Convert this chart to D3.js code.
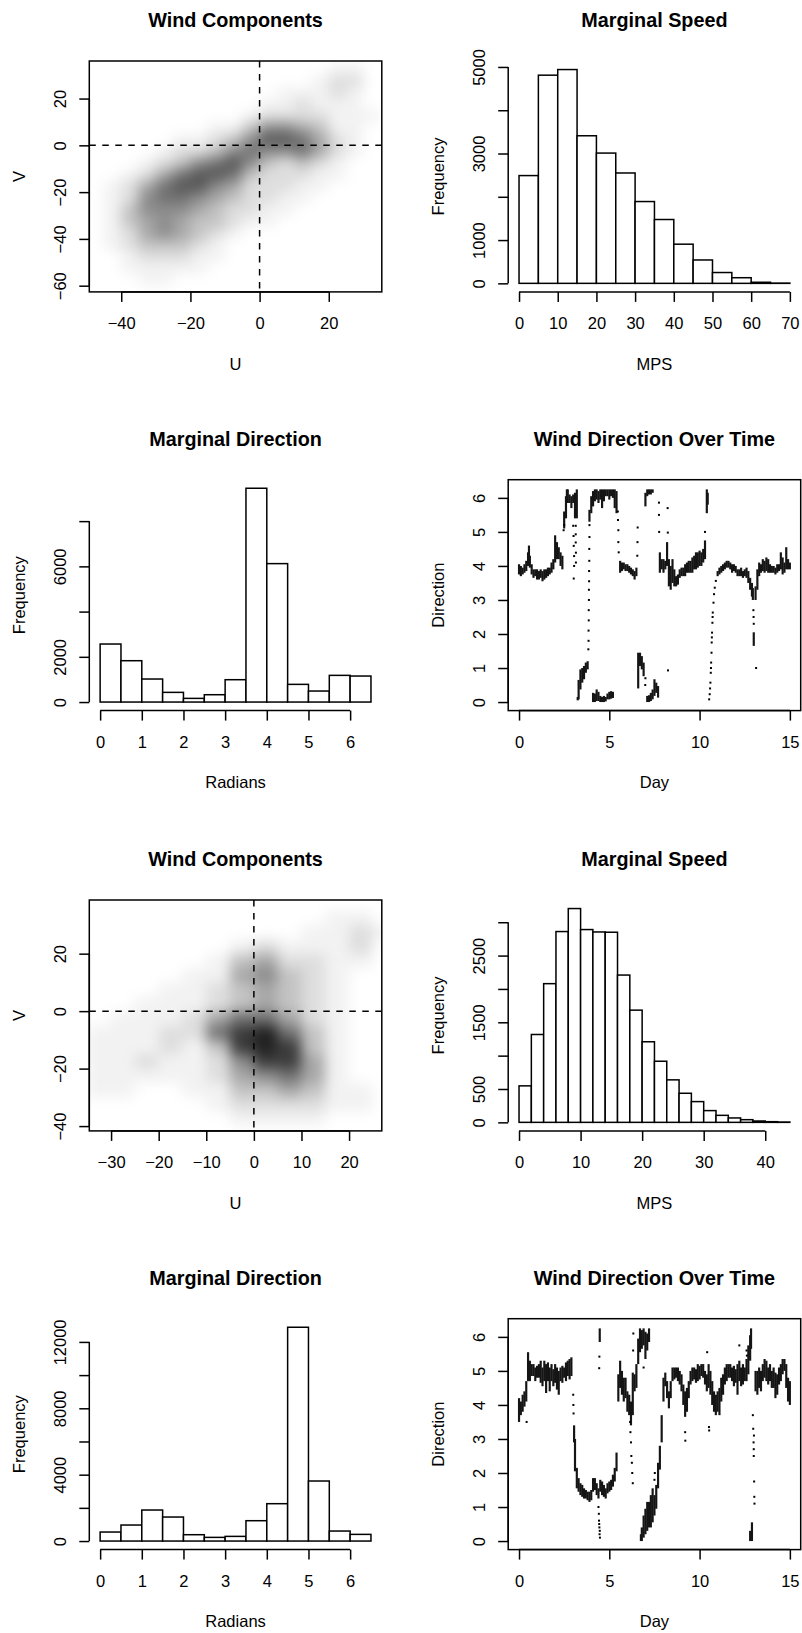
<!DOCTYPE html>
<html lang="en">
<head>
	<meta charset="UTF-8">
	<title>Wind summaries</title>
	<script src="https://cdn.jsdelivr.net/npm/d3@7"></script>
	<style>
		body{ margin:0; background:#fff; }
		text{ font-family:"Liberation Sans", Arial, Helvetica, sans-serif; fill:#000; }
	</style>
</head>
<body>
<script type="text/javascript">

	var M = '\u2212';

	// ---- site 1 ----
	// wind components: density of points per 5x5 cell (0-9), rows from top (V high) to bottom
	var comp1ULim = [-46.1, 32.2], comp1VLim = [-59.0, 32.4];
	var comp1UBreaks = [-45,-40,-35,-30,-25,-20,-15,-10,-5,0,5,10,15,20,25,30,35];
	var comp1VBreaks = [35,30,25,20,15,10,5,0,-5,-10,-15,-20,-25,-30,-35,-40,-45,-50,-55,-60];
	var comp1Density = [
		"0000000000000110",
		"0000000000001220",
		"0000000000111210",
		"0000000001121110",
		"0000000012222111",
		"0000001135543110",
		"0000112357764210",
		"0001223565564210",
		"0012356753232100",
		"0124677632221100",
		"1246775422211000",
		"1256654322110000",
		"1355543221100000",
		"1345433211000000",
		"1245432100000000",
		"1233321000000000",
		"0122211000000000",
		"0111110000000000",
		"0011000000000000"
	];
	var comp1XTicks = [-40,-20,0,20], comp1XLabels = [M+'40',M+'20','0','20'];
	var comp1YTicks = [-60,-40,-20,0,20], comp1YLabels = [M+'60',M+'40',M+'20','0','20'];

	var speed1Breaks = [0,5,10,15,20,25,30,35,40,45,50,55,60,65,70];
	var speed1Counts = [2490,4810,4940,3410,3010,2550,1890,1475,905,540,250,130,25,6];
	var speed1XTicks = [0,10,20,30,40,50,60,70], speed1XLabels = ['0','10','20','30','40','50','60','70'];
	var speed1YTicks = [0,1000,2000,3000,4000,5000], speed1YLabels = ['0','1000','','3000','','5000'];

	var dirBreaks = [0,0.5,1,1.5,2,2.5,3,3.5,4,4.5,5,5.5,6,6.5];
	var dir1Counts = [2566,1828,1018,428,162,324,988,9454,6121,782,487,1180,1150];
	var dirXTicks = [0,1,2,3,4,5,6], dirXLabels = ['0','1','2','3','4','5','6'];
	var dir1YTicks = [0,2000,4000,6000,8000], dir1YLabels = ['0','2000','','6000',''];

	// direction over time: [day, low, high] of the dense band, plus scattered single readings
	var time1Bands = [
		[0.0,3.75,4.05],[0.1,3.7,4.0],[0.2,3.75,3.95],[0.3,3.8,4.05],[0.4,3.85,4.15],[0.5,4.0,4.4],[0.55,4.1,4.6],
		[0.6,3.95,4.3],[0.7,3.75,4.05],[0.8,3.65,3.9],[0.9,3.7,3.9],[1.0,3.6,3.9],[1.1,3.6,3.85],[1.2,3.65,3.9],
		[1.3,3.55,3.85],[1.4,3.6,3.9],[1.5,3.65,3.9],[1.6,3.7,3.95],[1.7,3.75,3.95],[1.8,3.8,4.1],[1.9,3.9,4.2],
		[2.0,4.1,4.9],[2.1,4.2,4.7],[2.2,4.2,4.55],[2.3,4.0,4.4],[2.4,3.9,4.3],[2.5,5.1,5.6],[2.6,5.4,6.05],
		[2.65,5.9,6.25],[2.7,5.85,6.25],[2.8,5.85,6.1],[2.9,5.7,6.05],[3.0,5.85,6.1],[3.1,5.4,6.15],[3.2,5.4,6.25],
		[3.25,0.05,0.15],[3.3,0.08,0.65],[3.4,0.37,0.96],[3.5,0.57,1.0],[3.6,0.67,1.06],[3.7,0.86,1.16],[3.8,0.96,1.2],
		[3.9,5.3,5.65],[4.0,5.55,6.05],[4.1,5.75,6.2],[4.2,5.9,6.25],[4.3,5.95,6.25],[4.4,5.85,6.2],[4.5,5.95,6.25],
		[4.6,5.7,6.25],[4.7,5.9,6.25],[4.8,6.05,6.25],[4.9,6.05,6.25],[5.0,5.95,6.25],[5.1,6.05,6.25],[5.2,6.0,6.25],
		[5.3,5.7,6.25],[5.4,5.55,6.2],
		[4.1,0.0,0.27],[4.2,0.0,0.25],[4.3,0.03,0.37],[4.4,0.03,0.3],[4.5,0.0,0.18],[4.6,0.0,0.15],[4.7,0.0,0.18],
		[4.8,0.02,0.15],[4.9,0.08,0.25],[5.0,0.08,0.3],[5.1,0.1,0.32],[5.2,0.12,0.3],
		[5.6,3.8,4.15],[5.7,3.85,4.1],[5.8,3.9,4.1],[5.9,3.85,4.05],[6.0,3.85,4.05],[6.1,3.8,4.0],[6.2,3.75,3.95],
		[6.3,3.7,3.9],[6.4,3.6,3.85],[6.5,3.7,3.95],
		[6.6,0.4,1.45],[6.7,1.06,1.45],[6.8,0.96,1.35],[6.9,0.76,1.16],
		[7.0,5.75,6.15],[7.1,6.05,6.25],[7.2,6.1,6.25],[7.3,6.1,6.25],[7.4,6.15,6.25],
		[7.1,0.0,0.18],[7.2,0.0,0.2],[7.3,0.03,0.27],[7.4,0.08,0.37],[7.5,0.18,0.67],[7.6,0.27,0.57],[7.7,0.13,0.47],
		[7.8,3.8,4.4],[7.9,3.9,4.2],[8.0,3.8,4.2],[8.1,3.9,4.15],[8.2,4.0,4.7],[8.3,3.4,4.2],[8.4,3.3,4.0],
		[8.5,3.5,4.2],[8.6,3.4,3.9],[8.7,3.4,3.7],[8.8,3.45,3.75],[8.9,3.65,3.9],[9.0,3.7,3.95],[9.1,3.7,3.95],
		[9.2,3.7,4.05],[9.3,3.8,4.1],[9.4,3.8,4.15],[9.5,3.8,4.15],[9.6,3.8,4.25],[9.7,3.9,4.3],[9.8,3.9,4.4],
		[9.9,3.95,4.4],[10.0,4.0,4.45],[10.1,4.0,4.4],[10.2,4.1,4.5],[10.3,4.2,4.75],
		[10.4,5.55,6.25],[10.45,5.8,6.15],
		[11.0,3.7,3.85],[11.1,3.75,3.95],[11.2,3.8,4.0],[11.3,3.85,4.05],[11.4,3.9,4.1],[11.5,3.95,4.15],
		[11.6,3.95,4.15],[11.7,3.9,4.1],[11.8,3.8,4.05],[11.9,3.85,4.05],[12.0,3.8,4.0],[12.1,3.7,3.9],
		[12.2,3.7,3.9],[12.3,3.7,3.95],[12.4,3.65,3.85],[12.5,3.7,3.9],[12.6,3.65,3.95],[12.7,3.5,3.85],
		[12.8,3.3,3.65],[12.9,3.1,3.5],[12.95,3.0,3.35],[13.0,1.65,2.05],[13.1,3.0,3.4],[13.2,3.3,3.9],
		[13.3,3.7,4.1],[13.4,3.8,4.05],[13.5,3.85,4.2],[13.6,3.8,4.15],[13.7,3.85,4.25],[13.8,3.8,4.2],
		[13.9,3.8,4.05],[14.0,3.8,4.0],[14.1,3.8,4.0],[14.2,3.75,3.95],[14.3,3.8,4.05],[14.4,3.85,4.05],
		[14.5,3.9,4.4],[14.6,3.75,4.25],[14.7,3.8,4.1],[14.8,3.9,4.55],[14.9,3.9,4.2],[15.0,3.9,4.1]
	];
	var time1Points = [
		[2.47,5.05],[2.5,5.2],[3.0,5.18],[3.02,4.88],[3.03,4.59],[3.05,4.29],[3.05,4.0],[3.03,3.63],
		[3.14,5.18],[3.14,4.93],[3.14,4.69],[3.15,4.39],[3.15,4.1],
		[3.84,1.55],[3.85,1.8],[3.85,2.1],[3.86,2.4],[3.86,2.7],[3.87,3.0],[3.87,3.3],[3.88,3.55],
		[3.88,3.85],[3.89,4.15],[3.89,4.5],[3.9,4.85],[3.9,5.2],
		[5.47,5.6],[5.48,5.35],[5.5,5.05],[5.5,4.7],[5.52,4.4],[6.55,4.3],[6.56,4.7],[6.57,5.13],
		[6.99,0.5],[7.0,0.7],[7.75,5.86],[7.75,5.5],[7.76,5.0],[8.23,5.7],[8.24,4.98],[8.25,0.93],[10.3,5.0],
		[10.53,0.08],[10.56,0.23],[10.58,0.4],[10.6,0.57],[10.62,0.86],[10.63,1.0],[10.64,1.16],[10.66,1.45],
		[10.67,1.75],[10.68,1.9],[10.69,2.04],[10.71,2.33],[10.72,2.5],[10.73,2.63],[10.77,2.92],[10.8,3.17],
		[10.84,3.36],[10.9,3.56],[12.98,2.7],[12.99,2.5],[13.0,2.3],[13.13,1.0]
	];
	var timeXTicks = [0,5,10,15], timeXLabels = ['0','5','10','15'];
	var timeYTicks = [0,1,2,3,4,5,6], timeYLabels = ['0','1','2','3','4','5','6'];

	// ---- site 2 ----
	var comp2ULim = [-32.3, 24.6], comp2VLim = [-38.7, 35.7];
	var comp2UBreaks = [-35,-30,-25,-20,-15,-10,-5,0,5,10,15,20,25,30];
	var comp2VBreaks = [40,35,30,25,20,15,10,5,0,-5,-10,-15,-20,-25,-30,-35,-40,-45];
	var comp2Density = [
		"0000000000000",
		"0000000000110",
		"0000000001121",
		"0000001211120",
		"0000013422110",
		"0000114532100",
		"0001123432100",
		"0011123432100",
		"0111246642100",
		"1112268963100",
		"1112138983100",
		"1121125884100",
		"1111124564100",
		"1100113343110",
		"0000012222110",
		"0000001111000",
		"0000000000000"
	];
	var comp2XTicks = [-30,-20,-10,0,10,20], comp2XLabels = [M+'30',M+'20',M+'10','0','10','20'];
	var comp2YTicks = [-40,-20,0,20], comp2YLabels = [M+'40',M+'20','0','20'];

	var speed2Breaks = [0,2,4,6,8,10,12,14,16,18,20,22,24,26,28,30,32,34,36,38,40,42,44];
	var speed2Counts = [547,1317,2079,2860,3205,2890,2854,2850,2208,1682,1208,916,637,436,311,176,105,66,40,20,10,5];
	var speed2XTicks = [0,10,20,30,40], speed2XLabels = ['0','10','20','30','40'];
	var speed2YTicks = [0,500,1000,1500,2000,2500,3000], speed2YLabels = ['0','500','','1500','','2500',''];

	var dir2Counts = [543,965,1869,1447,382,221,281,1226,2251,12884,3618,603,402];
	var dir2YTicks = [0,2000,4000,6000,8000,10000,12000], dir2YLabels = ['0','','4000','','8000','','12000'];

	var time2Bands = [
		[0.0,3.5,4.2],[0.1,3.7,4.1],[0.2,3.8,4.3],[0.3,3.95,4.4],[0.4,4.1,4.7],[0.5,4.7,5.55],[0.6,4.7,5.3],
		[0.7,4.85,5.2],[0.8,4.85,5.2],[0.9,4.7,5.1],[1.0,4.8,5.15],[1.1,4.8,5.2],[1.2,4.65,5.3],[1.3,4.55,5.1],
		[1.4,4.7,5.3],[1.5,4.35,5.2],[1.6,4.7,5.25],[1.7,4.4,5.1],[1.8,4.7,5.2],[1.9,4.55,5.05],[2.0,4.65,5.2],
		[2.1,4.45,5.1],[2.2,4.3,5.0],[2.3,4.7,5.1],[2.4,4.65,5.15],[2.5,4.8,5.1],[2.6,4.7,5.25],[2.7,4.85,5.3],
		[2.8,4.75,5.35],[2.9,4.85,5.4],
		[3.05,2.9,3.4],[3.1,2.05,3.0],[3.2,1.55,2.15],[3.3,1.45,1.85],[3.4,1.35,1.7],[3.5,1.3,1.65],[3.6,1.25,1.55],
		[3.7,1.25,1.5],[3.8,1.2,1.45],[3.9,1.15,1.45],[4.0,1.2,1.5],[4.1,1.45,1.85],[4.2,1.5,1.85],[4.3,1.35,1.7],
		[4.4,1.25,1.55],[4.5,1.45,1.8],[4.6,1.35,1.75],[4.7,1.3,1.65],[4.8,1.25,1.55],[4.9,1.4,1.7],[5.0,1.45,1.75],
		[5.1,1.5,1.8],[5.2,1.6,1.95],[5.3,1.75,2.15],[5.4,2.05,2.6],
		[4.47,5.85,6.25],
		[5.5,4.1,4.9],[5.6,4.5,5.3],[5.7,4.3,5.0],[5.8,4.1,4.8],[5.9,4.2,4.8],[6.0,3.8,4.4],[6.1,3.7,4.3],
		[6.2,3.4,4.1],[6.3,3.7,4.95],[6.4,4.4,4.9],[6.5,4.5,5.2],[6.6,5.2,5.95],[6.7,5.55,6.25],[6.8,5.65,6.2],
		[6.9,5.75,6.25],[7.0,5.35,6.15],[7.1,5.6,6.1],[7.2,5.85,6.25],
		[6.75,0.0,0.2],[6.8,0.0,0.4],[6.9,0.1,0.75],[7.0,0.2,0.95],[7.1,0.3,1.15],[7.2,0.4,1.15],[7.3,0.4,1.35],
		[7.4,0.55,1.55],[7.5,0.75,1.35],[7.6,0.95,1.65],[7.7,1.55,2.3],[7.8,2.1,2.8],[7.9,2.9,3.7],
		[8.0,4.1,4.8],[8.1,4.55,4.95],[8.2,4.2,4.7],[8.3,3.9,4.4],[8.4,4.2,4.7],[8.5,4.7,5.1],[8.6,4.75,5.1],
		[8.7,4.8,5.1],[8.8,4.7,5.1],[8.9,4.6,5.0],[9.0,4.4,4.9],[9.1,4.0,4.6],[9.2,3.65,4.4],[9.3,3.8,4.5],
		[9.4,4.2,4.7],[9.5,4.6,5.0],[9.6,4.7,5.1],[9.7,4.75,5.1],[9.8,4.65,5.05],[9.9,4.7,5.2],[10.0,4.75,5.15],
		[10.1,4.85,5.2],[10.2,4.8,5.2],[10.3,4.6,5.0],[10.4,4.4,4.9],[10.5,4.5,5.2],[10.6,4.3,5.0],[10.7,4.0,4.7],
		[10.8,3.8,4.4],[10.9,3.7,4.3],[11.0,3.8,4.4],[11.1,3.7,4.5],[11.2,4.1,4.8],[11.3,4.3,4.9],[11.4,4.6,5.1],
		[11.5,4.7,5.2],[11.6,4.8,5.2],[11.7,4.8,5.2],[11.8,4.7,5.1],[11.9,4.55,5.15],[12.0,4.65,5.05],
		[12.1,4.3,5.2],[12.2,4.7,5.3],[12.3,4.55,5.1],[12.4,4.6,5.2],[12.5,4.7,5.1],[12.6,4.7,5.35],
		[12.7,4.9,5.75],[12.8,5.3,6.05],[12.85,5.65,6.25],[12.8,0.0,0.3],[12.9,0.0,0.55],
		[13.1,4.4,5.0],[13.2,4.3,5.0],[13.3,4.5,5.1],[13.4,4.4,5.0],[13.5,4.7,5.2],[13.6,4.8,5.35],
		[13.7,4.7,5.3],[13.8,4.6,5.1],[13.9,4.7,5.2],[14.0,4.5,5.0],[14.1,4.5,5.1],[14.2,4.2,4.95],
		[14.3,4.3,4.9],[14.4,4.6,5.1],[14.5,4.7,5.2],[14.6,4.9,5.35],[14.7,5.0,5.35],[14.8,4.5,5.2],
		[14.9,4.1,4.8],[15.0,4.0,4.7]
	];
	var time2Points = [
		[0.42,3.5],[3.0,4.3],[3.01,4.0],[3.02,3.75],[4.44,5.08],[4.45,5.42],
		[4.4,1.0],[4.42,0.8],[4.43,0.6],[4.44,0.5],[4.45,0.4],[4.46,0.2],[4.47,0.3],[4.48,0.1],
		[6.15,3.5],[6.17,3.2],[6.2,2.9],[6.22,2.5],[6.25,2.3],[6.27,2.0],[6.3,1.7],[6.32,5.6],[6.33,6.1],
		[6.9,5.1],[7.5,1.8],[7.52,2.0],[9.2,3.2],[9.21,2.95],[10.42,5.55],[10.52,3.35],[10.53,3.25],
		[12.2,5.75],[12.6,5.6],[12.62,5.45],[12.95,3.7],[12.97,3.3],[12.99,2.9],[13.0,2.5],[13.0,2.7],
		[13.01,3.1],[13.02,1.75],[13.03,1.3],[13.04,1.1]
	];

	var timeLim = [0, 15], dirLim = [0, 6.2832];

	var colX = [89.3, 508.2], rowTop = [61, 479.7, 900, 1318.7];
	var plotW = 292.5, plotH = 230.9;
	var fs = 16.5;

	var svg = d3.select('body').append('svg')
		.attr('width', 802)
		.attr('height', 1633);

	var defs = svg.append('defs');
	defs.append('filter').attr('id', 'soft')
		.attr('x', '-15%').attr('y', '-15%').attr('width', '130%').attr('height', '130%')
		.append('feGaussianBlur').attr('stdDeviation', 6.5);

	function pad(lim) {
		var e = (lim[1] - lim[0]) * 0.04;
		return [lim[0] - e, lim[1] + e];
	}

	function panel(col, row, title, xlab, ylab) {
		var p = {x0: colX[col], y0: rowTop[row]};
		p.x1 = p.x0 + plotW;
		p.y1 = p.y0 + plotH;
		p.g = svg.append('g');
		p.g.append('text')
			.attr('x', p.x0 + plotW / 2).attr('y', p.y0 - 34)
			.attr('text-anchor', 'middle').attr('font-weight', 'bold').attr('font-size', 19.8)
			.text(title);
		p.g.append('text')
			.attr('x', p.x0 + plotW / 2).attr('y', p.y1 + 77.7)
			.attr('text-anchor', 'middle').attr('font-size', fs)
			.text(xlab);
		p.g.append('text')
			.attr('transform', 'translate(' + (p.x0 - 64.5) + ',' + (p.y0 + plotH / 2) + ') rotate(-90)')
			.attr('text-anchor', 'middle').attr('font-size', fs)
			.text(ylab);
		return p;
	}

	// R-style axes: line only from first to last tick, labels parallel to the axis
	function axes(p, x, y, xt, xl, yt, yl) {
		var ax = p.g.append('g')
			.attr('transform', 'translate(0,' + p.y1 + ')')
			.call(d3.axisBottom(x).tickValues(xt).tickSize(10).tickSizeOuter(0)
				.tickFormat(function (d, i) { return xl[i]; }));
		ax.select('.domain').remove();
		ax.append('line')
			.attr('x1', x(xt[0])).attr('x2', x(xt[xt.length - 1]))
			.attr('stroke', '#000').attr('stroke-width', 1.5);
		ax.selectAll('.tick line').attr('stroke', '#000').attr('stroke-width', 1.5);
		ax.selectAll('.tick text').attr('y', 37.3).attr('dy', 0).attr('font-size', fs);

		var ay = p.g.append('g')
			.attr('transform', 'translate(' + p.x0 + ',0)')
			.call(d3.axisLeft(y).tickValues(yt).tickSize(10).tickSizeOuter(0)
				.tickFormat(function (d, i) { return yl[i]; }));
		ay.select('.domain').remove();
		ay.append('line')
			.attr('y1', y(yt[0])).attr('y2', y(yt[yt.length - 1]))
			.attr('stroke', '#000').attr('stroke-width', 1.5);
		ay.selectAll('.tick line').attr('stroke', '#000').attr('stroke-width', 1.5);
		ay.selectAll('.tick text')
			.attr('transform', 'rotate(-90)').attr('x', 0).attr('y', -23.5).attr('dy', 0)
			.attr('text-anchor', 'middle').attr('font-size', fs);
		ax.attr('font-family', null);
		ay.attr('font-family', null);
	}

	function box(p) {
		p.g.append('rect')
			.attr('x', p.x0).attr('y', p.y0).attr('width', plotW).attr('height', plotH)
			.attr('fill', 'none').attr('stroke', '#000').attr('stroke-width', 1.5);
	}

	function clip(p, id) {
		defs.append('clipPath').attr('id', id).append('rect')
			.attr('x', p.x0).attr('y', p.y0).attr('width', plotW).attr('height', plotH);
		return p.g.append('g').attr('clip-path', 'url(#' + id + ')');
	}

	function histogram(col, row, title, xlab, breaks, counts, xt, xl, yt, yl) {
		var p = panel(col, row, title, xlab, 'Frequency');
		var x = d3.scaleLinear().domain(pad([breaks[0], breaks[breaks.length - 1]])).range([p.x0, p.x1]);
		var y = d3.scaleLinear().domain(pad([0, d3.max(counts)])).range([p.y1, p.y0]);
		p.g.selectAll('.bar')
			.data(counts)
			.enter().append('rect')
			.attr('class', 'bar')
			.attr('x', function (d, i) { return x(breaks[i]); })
			.attr('y', function (d) { return y(d); })
			.attr('width', function (d, i) { return x(breaks[i + 1]) - x(breaks[i]); })
			.attr('height', function (d) { return y(0) - y(d); })
			.attr('fill', '#fff').attr('stroke', '#000').attr('stroke-width', 1.5);
		axes(p, x, y, xt, xl, yt, yl);
	}

	function components(col, row, id, uLim, vLim, uBreaks, vBreaks, density, xt, xl, yt, yl) {
		var p = panel(col, row, 'Wind Components', 'U', 'V');
		var x = d3.scaleLinear().domain(pad(uLim)).range([p.x0, p.x1]);
		var y = d3.scaleLinear().domain(pad(vLim)).range([p.y1, p.y0]);
		var shade = d3.scaleLinear().domain([0, 1, 2, 9]).range([0, 0.05, 0.13, 0.88]);
		var cells = [];
		density.forEach(function (r, i) {
			r.split('').forEach(function (c, j) {
				if (+c > 0) cells.push({u0: uBreaks[j], u1: uBreaks[j + 1], v0: vBreaks[i + 1], v1: vBreaks[i], n: +c});
			});
		});
		clip(p, id).append('g').attr('filter', 'url(#soft)')
			.selectAll('rect')
			.data(cells)
			.enter().append('rect')
			.attr('x', function (d) { return x(d.u0); })
			.attr('y', function (d) { return y(d.v1); })
			.attr('width', function (d) { return x(d.u1) - x(d.u0); })
			.attr('height', function (d) { return y(d.v0) - y(d.v1); })
			.attr('fill', '#000')
			.attr('fill-opacity', function (d) { return shade(d.n); });
		p.g.append('line')
			.attr('x1', p.x0).attr('x2', p.x1).attr('y1', y(0)).attr('y2', y(0))
			.attr('stroke', '#000').attr('stroke-width', 1.5).attr('stroke-dasharray', '6.5,6.5');
		p.g.append('line')
			.attr('x1', x(0)).attr('x2', x(0)).attr('y1', p.y0).attr('y2', p.y1)
			.attr('stroke', '#000').attr('stroke-width', 1.5).attr('stroke-dasharray', '6.5,6.5');
		box(p);
		axes(p, x, y, xt, xl, yt, yl);
	}

	function overTime(col, row, id, bands, points) {
		var p = panel(col, row, 'Wind Direction Over Time', 'Day', 'Direction');
		var x = d3.scaleLinear().domain(pad(timeLim)).range([p.x0, p.x1]);
		var y = d3.scaleLinear().domain(pad(dirLim)).range([p.y1, p.y0]);
		var g = clip(p, id);
		g.selectAll('.band')
			.data(bands)
			.enter().append('rect')
			.attr('class', 'band')
			.attr('x', function (d) { return x(d[0] - 0.06); })
			.attr('width', function (d) { return x(0.12) - x(0); })
			.attr('y', function (d) { return y(d[2]); })
			.attr('height', function (d) { return y(d[1]) - y(d[2]); })
			.attr('fill', '#151515');
		g.selectAll('.pt')
			.data(points)
			.enter().append('rect')
			.attr('class', 'pt')
			.attr('x', function (d) { return x(d[0]) - 1; })
			.attr('y', function (d) { return y(d[1]) - 1; })
			.attr('width', 2).attr('height', 2)
			.attr('fill', '#000');
		box(p);
		axes(p, x, y, timeXTicks, timeXLabels, timeYTicks, timeYLabels);
	}

	components(0, 0, 'c1', comp1ULim, comp1VLim, comp1UBreaks, comp1VBreaks, comp1Density,
		comp1XTicks, comp1XLabels, comp1YTicks, comp1YLabels);
	histogram(1, 0, 'Marginal Speed', 'MPS', speed1Breaks, speed1Counts,
		speed1XTicks, speed1XLabels, speed1YTicks, speed1YLabels);
	histogram(0, 1, 'Marginal Direction', 'Radians', dirBreaks, dir1Counts,
		dirXTicks, dirXLabels, dir1YTicks, dir1YLabels);
	overTime(1, 1, 't1', time1Bands, time1Points);

	components(0, 2, 'c2', comp2ULim, comp2VLim, comp2UBreaks, comp2VBreaks, comp2Density,
		comp2XTicks, comp2XLabels, comp2YTicks, comp2YLabels);
	histogram(1, 2, 'Marginal Speed', 'MPS', speed2Breaks, speed2Counts,
		speed2XTicks, speed2XLabels, speed2YTicks, speed2YLabels);
	histogram(0, 3, 'Marginal Direction', 'Radians', dirBreaks, dir2Counts,
		dirXTicks, dirXLabels, dir2YTicks, dir2YLabels);
	overTime(1, 3, 't2', time2Bands, time2Points);

</script>
</body>
</html>
